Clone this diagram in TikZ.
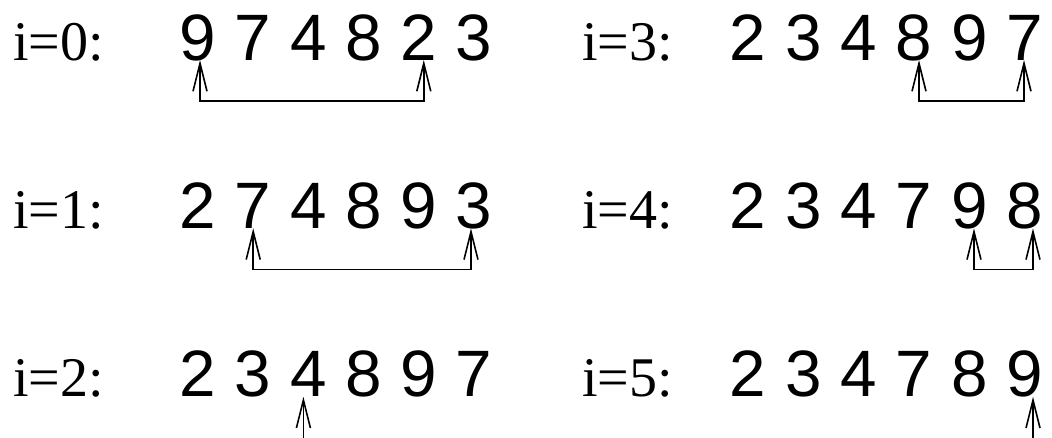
\documentclass[tikz,border=0pt]{standalone}
\usepackage{fontspec}
\setmainfont{Liberation Serif}
\newfontfamily\digitfont{Liberation Sans}
\usetikzlibrary{arrows.meta}
\begin{document}
\begin{tikzpicture}[x=1pt,y=-1pt,
  digit/.style={inner sep=0pt, anchor=base, font=\digitfont\fontsize{65.6}{70}\selectfont},
  lbl/.style={inner sep=0pt, anchor=base west, font=\fontsize{56}{60}\selectfont},
  barb/.tip={Straight Barb[length=28pt,width=14pt]},
  swap/.style={line width=1.6pt, barb-barb},
  single/.style={line width=1.6pt, -barb}]
\useasboundingbox (0,0) rectangle (1052,437);
% left column
\node[lbl] (l0) at (13,60) {i=0:};
\foreach \d [count=\k from 0] in {9,7,4,8,2,3}
  \node[digit] (a\k) at (198+\k*55.2,60) {\d};
\node[lbl] (l1) at (13,228.3) {i=1:};
\foreach \d [count=\k from 0] in {2,7,4,8,9,3}
  \node[digit] (b\k) at (198+\k*55.2,228.3) {\d};
\node[lbl] (l2) at (13,396.7) {i=2:};
\foreach \d [count=\k from 0] in {2,3,4,8,9,7}
  \node[digit] (c\k) at (198+\k*55.2,396.7) {\d};
% right column
\node[lbl] (l3) at (582,60) {i=3:};
\foreach \d [count=\k from 0] in {2,3,4,8,9,7}
  \node[digit] (d\k) at (748+\k*55.4,60) {\d};
\node[lbl] (l4) at (582,228.3) {i=4:};
\foreach \d [count=\k from 0] in {2,3,4,7,9,8}
  \node[digit] (e\k) at (748+\k*55.4,228.3) {\d};
\node[lbl] (l5) at (582,396.7) {i=5:};
\foreach \d [count=\k from 0] in {2,3,4,7,8,9}
  \node[digit] (f\k) at (748+\k*55.4,396.7) {\d};
% connectors
\draw[swap] ([xshift=2pt]a0.base) -- ++(0,41) -| ([xshift=5pt]a4.base);
\draw[swap] ([xshift=0pt]b1.base) -- ++(0,41) -| ([xshift=-3pt]b5.base);
\coordinate (cend) at ([xshift=-5pt,yshift=-45pt]c2.base);
\draw[single] (cend) -- ([xshift=-5pt]c2.base);
\draw[swap] ([xshift=4.8pt]d3.base) -- ++(0,41) -| ([xshift=-1pt]d5.base);
\draw[swap] ([xshift=4.4pt]e4.base) -- ++(0,41) -| ([xshift=8pt]e5.base);
\coordinate (fend) at ([xshift=8pt,yshift=-45pt]f5.base);
\draw[single] (fend) -- ([xshift=8pt]f5.base);
\end{tikzpicture}
\end{document}
